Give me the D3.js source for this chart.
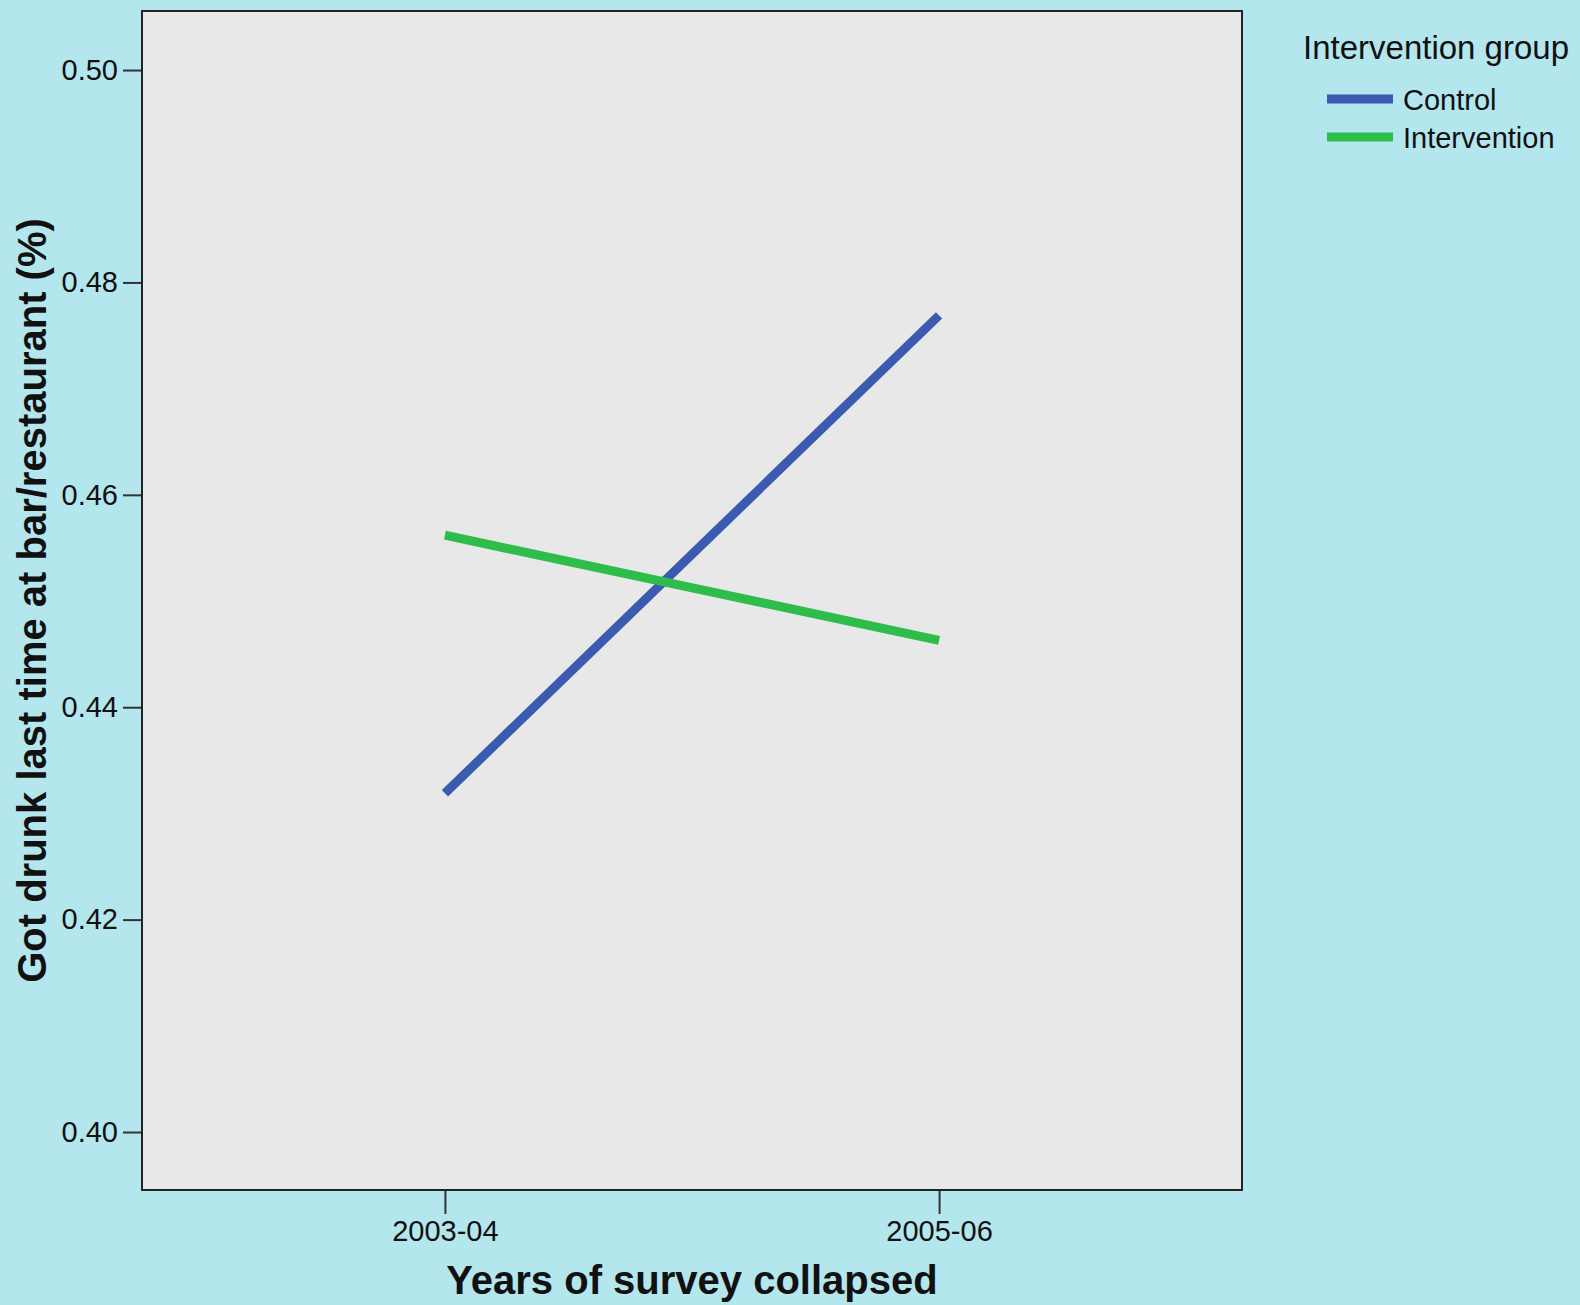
<!DOCTYPE html>
<html>
<head>
<meta charset="utf-8">
<script src="https://cdn.jsdelivr.net/npm/d3@7"></script>
<style>
  body { margin: 0; background: #b3e6ed; }
  text { font-family: "Liberation Sans", Arial, sans-serif; fill: #111; }
</style>
</head>
<body>
<div id="chart"></div>
<script>
var years = ["2003-04", "2005-06"];
var controlValues = [0.4319, 0.4769];
var interventionValues = [0.4562, 0.4463];
var yTicks = [0.40, 0.42, 0.44, 0.46, 0.48, 0.50];
var groupNames = ["Control", "Intervention"];
var groupColors = ["#3a5bb0", "#2ebd4a"];

var svgWidth = 1580;
var svgHeight = 1305;

var margin = { top: 11, right: 338, bottom: 115, left: 142 };
var width = svgWidth - margin.left - margin.right;
var height = svgHeight - margin.top - margin.bottom;

var svg = d3.select("#chart")
  .append("svg")
  .attr("width", svgWidth)
  .attr("height", svgHeight);

svg.append("rect")
  .attr("width", svgWidth)
  .attr("height", svgHeight)
  .attr("fill", "#b3e6ed");

var chartGroup = svg.append("g")
  .attr("transform", `translate(${margin.left}, ${margin.top})`);

// scales
var xScale = d3.scalePoint()
  .domain(years)
  .range([0, width])
  .padding(0.613);

var yScale = d3.scaleLinear()
  .domain([0.39454, 0.50556])
  .range([height, 0]);

// plot background
chartGroup.append("rect")
  .attr("width", width)
  .attr("height", height)
  .attr("fill", "#e8e8e8");

// axes
var leftAxis = d3.axisLeft(yScale)
  .tickValues(yTicks)
  .tickFormat(d3.format(".2f"))
  .tickSize(19)
  .tickPadding(5);

var bottomAxis = d3.axisBottom(xScale)
  .tickSize(24)
  .tickPadding(6);

var yAxisG = chartGroup.append("g").call(leftAxis);
var xAxisG = chartGroup.append("g")
  .attr("transform", `translate(0, ${height})`)
  .call(bottomAxis);

[yAxisG, xAxisG].forEach(function(g) {
  g.select(".domain").remove();
  g.selectAll(".tick line").attr("stroke", "#333").attr("stroke-width", 2);
  g.selectAll(".tick text")
    .attr("font-size", 29)
    .attr("font-family", "Liberation Sans, Arial, sans-serif")
    .attr("fill", "#111");
});

// lines
var series = [controlValues, interventionValues];
var line = d3.line()
  .x(function(d, i) { return xScale(years[i]); })
  .y(function(d) { return yScale(d); });

chartGroup.selectAll(".series")
  .data(series)
  .enter()
  .append("path")
  .attr("class", "series")
  .attr("d", line)
  .attr("fill", "none")
  .attr("stroke", function(d, i) { return groupColors[i]; })
  .attr("stroke-width", 9);

// frame
chartGroup.append("rect")
  .attr("width", width)
  .attr("height", height)
  .attr("fill", "none")
  .attr("stroke", "#222")
  .attr("stroke-width", 2);

// axis labels
chartGroup.append("text")
  .attr("transform", "rotate(-90)")
  .attr("x", -height / 2)
  .attr("y", -96)
  .attr("text-anchor", "middle")
  .attr("font-size", 40)
  .attr("font-weight", "bold")
  .text("Got drunk last time at bar/restaurant (%)");

chartGroup.append("text")
  .attr("x", width / 2)
  .attr("y", height + 104)
  .attr("text-anchor", "middle")
  .attr("font-size", 40)
  .attr("font-weight", "bold")
  .text("Years of survey collapsed");

// legend
var legend = svg.append("g")
  .attr("transform", "translate(1303, 0)");

legend.append("text")
  .attr("x", 0)
  .attr("y", 59)
  .attr("font-size", 33)
  .text("Intervention group");

var items = legend.selectAll(".item")
  .data(groupNames)
  .enter()
  .append("g")
  .attr("class", "item")
  .attr("transform", function(d, i) { return `translate(0, ${99 + i * 38})`; });

items.append("line")
  .attr("x1", 24)
  .attr("x2", 90)
  .attr("stroke", function(d, i) { return groupColors[i]; })
  .attr("stroke-width", 9);

items.append("text")
  .attr("x", 100)
  .attr("y", 11)
  .attr("font-size", 29)
  .text(function(d) { return d; });
</script>
</body>
</html>
